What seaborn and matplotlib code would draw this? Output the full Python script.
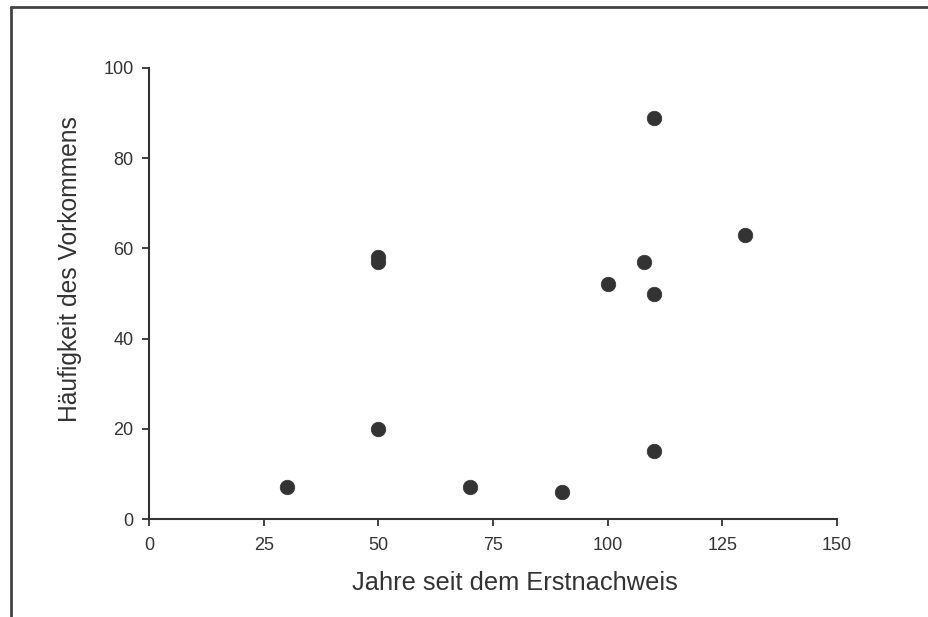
import matplotlib
matplotlib.use("Agg")
import matplotlib.pyplot as plt
from matplotlib.lines import Line2D
import seaborn as sns
import pandas as pd

# Data
jahre = [30, 50, 50, 50, 70, 90, 100, 108, 110, 110, 110, 130]
haeufigkeit = [7, 58, 57, 20, 7, 6, 52, 57, 89, 50, 15, 63]
x_ticks = [0, 25, 50, 75, 100, 125, 150]
y_ticks = [0, 20, 40, 60, 80, 100]
x_label = "Jahre seit dem Erstnachweis"
y_label = "Häufigkeit des Vorkommens"

df = pd.DataFrame({"x": jahre, "y": haeufigkeit})

sns.set_style("white")
plt.rcParams["font.family"] = ["Liberation Sans", "DejaVu Sans"]

W, H = 929, 617
fig = plt.figure(figsize=(W / 100, H / 100), dpi=100)
ax = fig.add_axes([149 / W, 1 - 519 / H, (837 - 149) / W, (519 - 68) / H])

ink = "#333333"
sns.scatterplot(data=df, x="x", y="y", ax=ax, s=110, color=ink,
                edgecolor=ink, linewidth=0.5, zorder=3)

ax.set_xlim(0, 150)
ax.set_ylim(0, 100)
ax.set_xticks(x_ticks)
ax.set_yticks(y_ticks)
ax.set_xticklabels([str(v) for v in x_ticks], fontsize=13, color=ink)
ax.set_yticklabels([str(v) for v in y_ticks], fontsize=13, color=ink)
ax.tick_params(axis="x", direction="out", length=5, width=1.3, color=ink,
               bottom=True, pad=8)
ax.tick_params(axis="y", direction="out", length=5, width=1.3, color=ink,
               left=True, pad=6)

for side in ["top", "right"]:
    ax.spines[side].set_visible(False)
for side in ["left", "bottom"]:
    ax.spines[side].set_color(ink)
    ax.spines[side].set_linewidth(1.5)

ax.set_xlabel(x_label, fontsize=18.3, color=ink)
ax.set_ylabel(y_label, fontsize=17.7, color=ink)
ax.xaxis.set_label_coords((515 - 149) / 688, -(583 - 519) / 451, transform=ax.transAxes)
ax.yaxis.set_label_coords(-(149 - 70) / 688, (519 - 269) / 451, transform=ax.transAxes)
ax.xaxis.label.set_verticalalignment("center")
ax.yaxis.label.set_verticalalignment("center")

# scanned frame (left and top border)
fig.add_artist(Line2D([11.5 / W, 11.5 / W], [0, 1 - 7 / H], transform=fig.transFigure,
                      color="#444444", linewidth=2))
fig.add_artist(Line2D([11.5 / W, 1], [1 - 7 / H, 1 - 7 / H], transform=fig.transFigure,
                      color="#444444", linewidth=2))

fig.savefig("out.png", dpi=100)
